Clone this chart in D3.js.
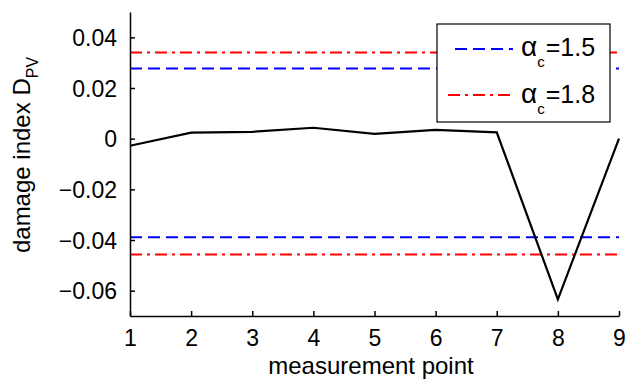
<!DOCTYPE html>
<html>
<head>
<meta charset="utf-8">
<script src="https://cdn.jsdelivr.net/npm/d3@7"></script>
<style>
  body { margin: 0; background: #fff; }
  svg text { font-family: "Liberation Sans", Arial, sans-serif; fill: #000; }
</style>
</head>
<body>
<svg width="626" height="385"></svg>
<script>
// measurement points and damage index values
const points = [1, 2, 3, 4, 5, 6, 7, 8, 9];
const damage = [-0.0028, 0.0024, 0.0027, 0.0043, 0.0019, 0.0035, 0.0025, -0.0634, 0.0];
// thresholds for each alpha_c
const alphaLabels = ["1.5", "1.8"];
const upperLimit = [0.0277, 0.0340];
const lowerLimit = [-0.0389, -0.0457];
const yTicks = [-0.06, -0.04, -0.02, 0, 0.02, 0.04];

const margin = {top: 12, right: 7, bottom: 69, left: 130};
const width = 626 - margin.left - margin.right;
const height = 385 - margin.top - margin.bottom;

const svg = d3.select("svg");
const g = svg.append("g")
    .attr("transform", "translate(" + margin.left + "," + margin.top + ")");

const x = d3.scaleLinear().domain([1, 9]).range([0, width]);
const y = d3.scaleLinear().domain([-0.07, 0.05]).range([height, 0]);

const colors = ["#0000ff", "#ff0000"];
const dashes = ["12,6", "12,5,3,5"];

// threshold lines
alphaLabels.forEach((a, i) => {
  [upperLimit[i], lowerLimit[i]].forEach(v => {
    g.append("line")
        .attr("x1", x(1)).attr("x2", x(9))
        .attr("y1", y(v)).attr("y2", y(v))
        .attr("stroke", colors[i])
        .attr("stroke-width", 2)
        .attr("stroke-dasharray", dashes[i]);
  });
});

// damage index line
const line = d3.line()
    .x((d, i) => x(points[i]))
    .y(d => y(d));
g.append("path")
    .datum(damage)
    .attr("d", line)
    .attr("fill", "none")
    .attr("stroke", "#000")
    .attr("stroke-width", 2.2);

// axes, ticks point inward
const xAxis = g.append("g")
    .attr("transform", "translate(0," + height + ")")
    .call(d3.axisBottom(x).tickValues(points).tickSize(-5).tickSizeOuter(0));
const yAxis = g.append("g")
    .call(d3.axisLeft(y).tickValues(yTicks).tickSize(-5).tickSizeOuter(0)
      .tickFormat(d => d === 0 ? "0" : d3.format(".2f")(d)));

[xAxis, yAxis].forEach(ax => {
  ax.selectAll("path, line").attr("stroke", "#000").attr("stroke-width", 1.5);
  ax.selectAll("text").attr("font-size", 23).attr("fill", "#000")
    .style("font-family", "'Liberation Sans', Arial, sans-serif");
});
xAxis.selectAll("text").attr("y", 30).attr("dy", 0);
yAxis.selectAll("text").attr("x", -13).attr("dy", "0.36em");

// axis labels
svg.append("text")
    .attr("x", 371)
    .attr("y", 374)
    .attr("text-anchor", "middle")
    .attr("font-size", 24)
    .text("measurement point");

const yl = svg.append("text")
    .attr("transform", "translate(30,155) rotate(-90)")
    .attr("text-anchor", "middle")
    .attr("font-size", 24);
yl.append("tspan").text("damage index D");
yl.append("tspan").attr("dy", 8).attr("font-size", 16).text("PV");

// legend
const lg = svg.append("g").attr("transform", "translate(437,24)");
lg.append("rect")
    .attr("width", 173).attr("height", 98)
    .attr("fill", "#fff").attr("stroke", "#000").attr("stroke-width", 1.2);
alphaLabels.forEach((a, i) => {
  const cy = 25 + i * 46;
  lg.append("line")
      .attr("x1", i === 0 ? 18 : 11).attr("x2", 76)
      .attr("y1", cy).attr("y2", cy)
      .attr("stroke", colors[i])
      .attr("stroke-width", 2)
      .attr("stroke-dasharray", dashes[i]);
  const t = lg.append("text")
      .attr("x", 84).attr("y", 32 + i * 47)
      .attr("font-size", 25);
  t.append("tspan").attr("font-size", 28).text("α");
  t.append("tspan").attr("dy", 11).attr("font-size", 15).text("c");
  t.append("tspan").attr("dy", -11).attr("dx", 1).text("=" + a);
});
</script>
</body>
</html>
